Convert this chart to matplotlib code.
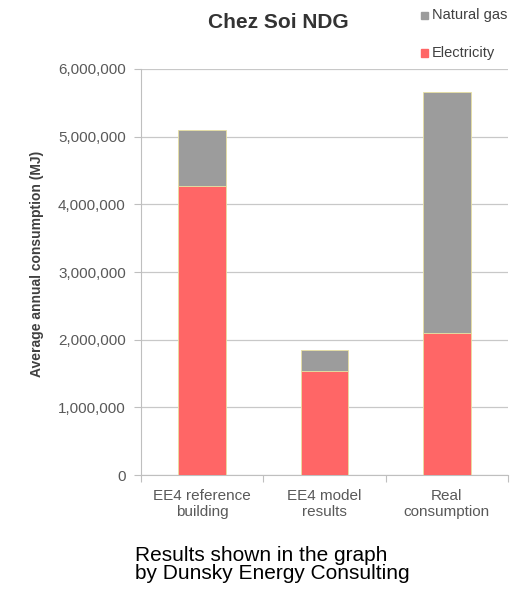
import numpy as np
import matplotlib.pyplot as plt
from matplotlib.ticker import FuncFormatter

plt.rcParams['font.family'] = ['Liberation Sans', 'DejaVu Sans']

# data
categories = ["EE4 reference\nbuilding", "EE4 model\nresults", "Real\nconsumption"]
electricity = [4270000, 1540000, 2100000]
natural_gas = [830000, 310000, 3560000]

elec_color = '#ff6666'
gas_color = '#9c9c9c'
text_gray = '#595959'

fig = plt.figure(figsize=(5.13, 5.89), dpi=100)
ax = fig.add_axes([0.275, 0.1935, 0.715, 0.6894])

x = np.arange(len(categories))
ax.bar(x, electricity, width=0.39, color=elec_color, edgecolor='#e8e0a0', linewidth=0.6,
       zorder=3, label='Electricity')
ax.bar(x, natural_gas, width=0.39, bottom=electricity, color=gas_color, edgecolor='#e8e0a0',
       linewidth=0.6, zorder=3, label='Natural gas')

ax.set_xlim(-0.5, 2.5)
ax.set_ylim(0, 6000000)
ax.set_yticks(np.arange(0, 6000001, 1000000))
ax.yaxis.set_major_formatter(FuncFormatter(lambda v, p: f'{int(v):,}'))
ax.set_xticks([-0.5, 0.5, 1.5, 2.5])
ax.set_xticklabels([])
ax.set_xticks(x, minor=True)
ax.set_xticklabels(categories, minor=True)
ax.tick_params(axis='x', which='minor', length=0, pad=10, labelsize=11, labelcolor=text_gray)
ax.tick_params(axis='x', which='major', length=5, color='#bfbfbf', direction='out')
ax.tick_params(axis='y', length=5, color='#bfbfbf', labelsize=11, labelcolor=text_gray, pad=6)

ax.grid(axis='y', color='#c8c8c8', linewidth=0.9, zorder=0)
for s in ['top', 'right']:
    ax.spines[s].set_visible(False)
ax.spines['left'].set_color('#bfbfbf')
ax.spines['bottom'].set_color('#bfbfbf')

ax.set_ylabel('Average annual consumption (MJ)', fontsize=10, fontweight='bold',
              color='#404040')
ax.yaxis.set_label_coords(-0.265, 0.52)

fig.text(0.543, 0.962, 'Chez Soi NDG', ha='center', va='center', fontsize=15,
         fontweight='bold', color='#333333')

# legend drawn by hand to sit at top right like the original
fig.patches.append(plt.Rectangle((0.82, 0.968), 0.014, 0.012, transform=fig.transFigure,
                                 color=gas_color))
fig.text(0.842, 0.974, 'Natural gas', ha='left', va='center', fontsize=10.5, color='#404040')
fig.patches.append(plt.Rectangle((0.82, 0.904), 0.014, 0.012, transform=fig.transFigure,
                                 color=elec_color))
fig.text(0.842, 0.910, 'Electricity', ha='left', va='center', fontsize=10.5, color='#404040')

fig.text(0.263, 0.042, 'Results shown in the graph\nby Dunsky Energy Consulting', ha='left',
         va='center', fontsize=15, linespacing=0.95, color='black',
         family=['Liberation Sans Narrow', 'Liberation Sans'])

plt.savefig('out.png', dpi=100)
